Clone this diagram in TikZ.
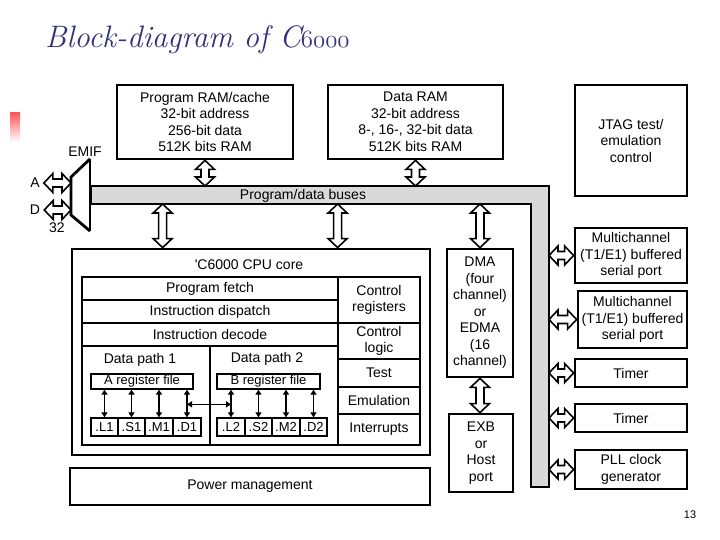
\documentclass[tikz,border=0pt]{standalone}
\usepackage{fontspec}
\newfontfamily\arialfont{Liberation Sans}
\usetikzlibrary{calc,arrows.meta}
\definecolor{titleblue}{RGB}{50,50,122}
\definecolor{busgray}{RGB}{217,217,217}

\tikzset{
  blk/.style={draw, line width=2.8pt, align=center, inner sep=0pt,
    font=\arialfont\fontsize{14}{16.5}\selectfont},
  cell/.style={draw, line width=1.8pt, align=center, inner sep=0pt,
    font=\arialfont\fontsize{14}{15.5}\selectfont},
  unit/.style={draw, line width=1.3pt, inner sep=0pt, minimum height=18pt,
    font=\arialfont\fontsize{13}{14}\selectfont},
  lbl/.style={inner sep=0pt, font=\arialfont\fontsize{14}{15}\selectfont},
  bigarrow/.style={draw, line width=1.6pt, fill=white,
    to path={(\tikztostart)
      -- ($(\tikztostart)!9pt!(\tikztotarget)!9.5pt!90:(\tikztotarget)$)
      -- ($(\tikztostart)!9pt!(\tikztotarget)!4pt!90:(\tikztotarget)$)
      -- ($(\tikztotarget)!9pt!(\tikztostart)!4pt!-90:(\tikztostart)$)
      -- ($(\tikztotarget)!9pt!(\tikztostart)!9.5pt!-90:(\tikztostart)$)
      -- (\tikztotarget)
      -- ($(\tikztotarget)!9pt!(\tikztostart)!9.5pt!90:(\tikztostart)$)
      -- ($(\tikztotarget)!9pt!(\tikztostart)!4pt!90:(\tikztostart)$)
      -- ($(\tikztostart)!9pt!(\tikztotarget)!4pt!-90:(\tikztotarget)$)
      -- ($(\tikztostart)!9pt!(\tikztotarget)!9.5pt!-90:(\tikztotarget)$)
      -- cycle}},
}

\begin{document}
\begin{tikzpicture}[x=1pt, y=-1pt, >={Triangle[length=5pt,width=6pt]}]
  \useasboundingbox (0,0) rectangle (720,540);

  % slide title
  \node[anchor=base west, inner sep=0pt, text=titleblue,
    font=\fontsize{31}{33}\selectfont\itshape] (title) at (45,48)
    {Block-diagram of C{\usefont{OML}{cmm}{m}{it}\fontsize{31}{33}\selectfont 6000}};
  \shade[top color=red!65!white, bottom color=white] (10,113) rectangle (20,142);
  \node[lbl, font=\arialfont\fontsize{11}{12}\selectfont] (pnum) at (690,515) {13};

  % memories, JTAG
  \node[blk, minimum width=176pt, minimum height=74pt] (pram) at (205,122)
    {Program RAM/cache\\32-bit address\\256-bit data\\512K bits RAM};
  \node[blk, minimum width=175pt, minimum height=74pt] (dram) at (415.5,122)
    {Data RAM\\32-bit address\\8-, 16-, 32-bit data\\512K bits RAM};
  \node[blk, minimum width=112pt, minimum height=111pt] (jtag) at (631,140.5)
    {JTAG test/\\emulation\\control};

  % buses
  \filldraw[fill=busgray, line width=1.6pt] (91,186) -- (549,186) -- (549,487)
    -- (531,487) -- (531,204) -- (91,204) -- cycle;
  \coordinate (busT) at (300,186);
  \coordinate (busB) at (300,204);
  \coordinate (busR) at (549,300);
  \node[lbl] (buslbl) at (303,196) {Program/data buses};

  % EMIF
  \draw[line width=2.8pt] (90,159) -- (71,177) -- (71,215) -- (90,231);
  \draw[line width=1.4pt] (90,159) -- (90,231);
  \coordinate (emifA) at (71,183);
  \coordinate (emifD) at (71,210);
  \node[lbl] (emif) at (85,152) {EMIF};
  \node[lbl] (la) at (35,183) {A};
  \node[lbl] (ld) at (35,210) {D};
  \node[lbl] (l32) at (57,228) {32};

  % CPU core
  \node[blk, minimum width=358pt, minimum height=206pt] (cpu) at (251,352) {};
  \node[lbl] (cpulbl) at (249,265) {'C6000 CPU core};
  \node[cell, minimum width=256pt, minimum height=23pt] (fetch) at (210,288.5) {Program fetch};
  \node[cell, minimum width=256pt, minimum height=23pt] (disp) at (210,311.5) {Instruction dispatch};
  \node[cell, minimum width=256pt, minimum height=23pt] (dec) at (210,334.5) {Instruction decode};
  \node[cell, minimum width=128pt, minimum height=99pt] (dp1) at (146,395.5) {};
  \node[cell, minimum width=128pt, minimum height=99pt] (dp2) at (274,395.5) {};
  \node[cell, minimum width=82pt, minimum height=46pt] (creg) at (379,300) {Control\\registers};
  \node[cell, minimum width=82pt, minimum height=36pt] (clog) at (379,341) {Control\\logic};
  \node[cell, minimum width=82pt, minimum height=28pt] (test) at (379,373) {Test};
  \node[cell, minimum width=82pt, minimum height=27pt] (emu) at (379,400.5) {Emulation};
  \node[cell, minimum width=82pt, minimum height=31pt] (intr) at (379,429.5) {Interrupts};

  % data paths
  \node[lbl] (dp1lbl) at (140,360) {Data path 1};
  \node[lbl] (dp2lbl) at (267,359) {Data path 2};
  \node[unit, minimum width=102pt, minimum height=15pt] (ra) at (142,381.5) {A register file};
  \node[unit, minimum width=103pt, minimum height=15pt] (rb) at (268.5,381.5) {B register file};
  \node[unit, minimum width=27pt] (l1) at (104.5,427) {.L1};
  \node[unit, minimum width=27pt] (s1) at (131.5,427) {.S1};
  \node[unit, minimum width=28pt] (m1) at (159,427) {.M1};
  \node[unit, minimum width=28pt] (d1) at (187,427) {.D1};
  \node[unit, minimum width=28pt] (l2) at (231,427) {.L2};
  \node[unit, minimum width=27pt] (s2) at (258.5,427) {.S2};
  \node[unit, minimum width=28pt] (m2) at (286,427) {.M2};
  \node[unit, minimum width=27pt] (d2) at (313.5,427) {.D2};
  \foreach \u in {l1,s1,m1,d1}
    \draw[<->, line width=1.5pt] (\u.north |- ra.south) -- (\u.north);
  \foreach \u in {l2,s2,m2,d2}
    \draw[<->, line width=1.5pt] (\u.north |- rb.south) -- (\u.north);
  \draw[<->, line width=1.5pt] ([yshift=13pt]d1.north) -- ([yshift=13pt]l2.north);

  % DMA, host port, power
  \node[blk, minimum width=66pt, minimum height=128pt] (dma) at (480,313)
    {DMA\\(four\\channel)\\or\\EDMA\\(16\\channel)};
  \node[blk, minimum width=64pt, minimum height=78pt] (exb) at (481,453)
    {EXB\\or\\Host\\port};
  \node[blk, minimum width=360pt, minimum height=37pt] (pwr) at (250,486.5) {Power management};

  % peripherals
  \node[blk, minimum width=112pt, minimum height=55pt] (mc1) at (631,255.5)
    {Multichannel\\(T1/E1) buffered\\serial port};
  \node[blk, minimum width=109pt, minimum height=57pt] (mc2) at (632.5,319.5)
    {Multichannel\\(T1/E1) buffered\\serial port};
  \node[blk, minimum width=112pt, minimum height=28pt] (tim1) at (631,373) {Timer};
  \node[blk, minimum width=112pt, minimum height=28pt] (tim2) at (631,418) {Timer};
  \node[blk, minimum width=112pt, minimum height=39pt] (pll) at (631,469.5) {PLL clock\\generator};

  % hollow bus arrows
  \draw[bigarrow] (pram.south) to (pram.south |- busT);
  \draw[bigarrow] (dram.south) to (dram.south |- busT);
  \coordinate (cin1) at ($(cpu.north west)!0.255!(cpu.north east)$);
  \coordinate (cin2) at ($(cpu.north west)!0.74!(cpu.north east)$);
  \draw[bigarrow] (cin1 |- busB) to (cin1);
  \draw[bigarrow] (cin2 |- busB) to (cin2);
  \draw[bigarrow] (dma.north |- busB) to (dma.north);
  \draw[bigarrow] (dma.south) to (dma.south |- exb.north);
  \draw[bigarrow] (mc1.west -| busR) to (mc1.west);
  \draw[bigarrow] (mc2.west -| busR) to (mc2.west);
  \draw[bigarrow] (tim1.west -| busR) to (tim1.west);
  \draw[bigarrow] (tim2.west -| busR) to (tim2.west);
  \draw[bigarrow] (pll.west -| busR) to (pll.west);
  \draw[bigarrow] ([xshift=4pt]la.east) to (emifA);
  \draw[bigarrow] ([xshift=4pt]ld.east) to (emifD);
\end{tikzpicture}
\end{document}
